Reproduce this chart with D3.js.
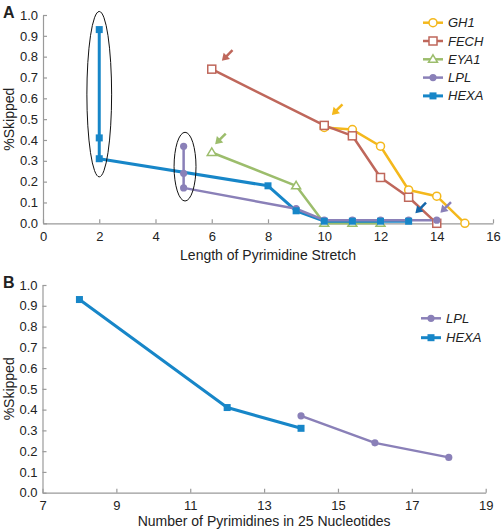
<!DOCTYPE html>
<html><head><meta charset="utf-8">
<script src="https://cdn.jsdelivr.net/npm/d3@7"></script>
<style>
body{margin:0;background:#fff;}
text{font-family:"Liberation Sans",Arial,sans-serif;fill:#222;}
</style></head>
<body><svg id="c" width="502" height="529"></svg>
<script>
// ---------- DATA: panel A ----------
const seriesA = ["GH1","FECH","EYA1","LPL","HEXA"];
const gh1X  = [10,11,12,13,14,15];
const gh1Y  = [0.46,0.45,0.37,0.16,0.13,0.0];
const fechX = [6,10,11,12,13,14];
const fechY = [0.74,0.47,0.42,0.22,0.125,0.0];
const eya1X = [6,9,10,11,12];
const eya1Y = [0.34,0.18,0.0,0.0,0.0];
const lplX  = [5,5,5,9,10,11,12,13,14];
const lplY  = [0.37,0.24,0.17,0.07,0.015,0.015,0.015,0.015,0.015];
const hexaX = [2,2,2,8,9,10,11,12,13];
const hexaY = [0.93,0.41,0.31,0.18,0.06,0.01,0.01,0.01,0.01];
const xTicksA = [0,2,4,6,8,10,12,14,16];
const yTicks = [0,0.1,0.2,0.3,0.4,0.5,0.6,0.7,0.8,0.9,1.0];
// annotation arrows (tip positions in data units) and ellipses
const arrowSeries = ["FECH","EYA1","GH1","HEXA","LPL"];
const arrowX = [6.36,6.12,10.27,13.24,14.13];
const arrowY = [0.78,0.38,0.52,0.048,0.051];
const ellipseCX = [2,5.05];
const ellipseCY = [0.62,0.272];
const ellipseRX = [0.44,0.39];
const ellipseRY = [0.397,0.165];

// ---------- DATA: panel B ----------
const seriesB = ["LPL","HEXA"];
const lplBX  = [14,16,18];
const lplBY  = [0.37,0.24,0.17];
const hexaBX = [8,12,14];
const hexaBY = [0.93,0.41,0.31];
const xTicksB = [7,9,11,13,15,17,19];

const colors = {GH1:"#f4b81c",FECH:"#bf675b",EYA1:"#9cbd6c",LPL:"#8a80b8",HEXA:"#1786c8"};
const arrowColors = {GH1:"#f4b81c",FECH:"#bf675b",EYA1:"#9cbd6c",LPL:"#8a80b8",HEXA:"#1466aa"};
const markers = {GH1:"ocircle",FECH:"osquare",EYA1:"otriangle",LPL:"circle",HEXA:"square"};
const widths = {GH1:2.5,FECH:2.5,EYA1:2.5,LPL:2.5,HEXA:3};

const svg = d3.select("#c");
const axisColor = "#9a9a9a";

function zip(xs, ys){return xs.map((x,i)=>({x:x,y:ys[i]}));}

function drawMarker(g, type, cx, cy, color){
  if(type==="ocircle"){
    g.append("circle").attr("cx",cx).attr("cy",cy).attr("r",4).attr("fill","#fff").attr("stroke",color).attr("stroke-width",1.5);
  } else if(type==="circle"){
    g.append("circle").attr("cx",cx).attr("cy",cy).attr("r",3.6).attr("fill",color);
  } else if(type==="osquare"){
    g.append("rect").attr("x",cx-4).attr("y",cy-4).attr("width",8).attr("height",8).attr("fill","#fff").attr("stroke",color).attr("stroke-width",1.5);
  } else if(type==="square"){
    g.append("rect").attr("x",cx-3.5).attr("y",cy-3.5).attr("width",7).attr("height",7).attr("fill",color);
  } else if(type==="otriangle"){
    g.append("path").attr("d",`M${cx},${cy-4.5}L${cx+4.5},${cy+3}L${cx-4.5},${cy+3}Z`).attr("fill","#fff").attr("stroke",color).attr("stroke-width",1.5);
  }
}

function drawAxes(g, x, y, xTicks, xFmt, top, bottom, left, right){
  const xa = g.append("g").attr("transform",`translate(0,${bottom})`)
    .call(d3.axisBottom(x).tickValues(xTicks).tickFormat(xFmt).tickSizeInner(-4).tickSizeOuter(0).tickPadding(8));
  const ya = g.append("g").attr("transform",`translate(${left},0)`)
    .call(d3.axisLeft(y).tickValues(yTicks).tickFormat(d3.format(".1f")).tickSizeInner(-4).tickSizeOuter(0).tickPadding(5));
  [xa,ya].forEach(a=>{
    a.select(".domain").attr("stroke",axisColor).attr("stroke-width",1.2);
    a.selectAll(".tick line").attr("stroke",axisColor).attr("stroke-width",1.2);
    a.selectAll(".tick text").attr("font-size",13).attr("fill","#222").style("font-family","'Liberation Sans',Arial,sans-serif");
  });
}

function drawLegend(g, names, x0, y0, dy){
  names.forEach((n,i)=>{
    const yy = y0 + i*dy;
    g.append("line").attr("x1",x0).attr("x2",x0+20).attr("y1",yy).attr("y2",yy).attr("stroke",colors[n]).attr("stroke-width",widths[n]);
    drawMarker(g, markers[n], x0+10, yy, colors[n]);
    g.append("text").attr("x",x0+25).attr("y",yy).attr("dy","0.35em").attr("font-size",13).attr("font-style","italic").text(n);
  });
}

// ---------- Panel A ----------
(function(){
  const left=43, right=493, top=15, bottom=223.3;
  const x = d3.scaleLinear().domain([0,16]).range([left,right]);
  const y = d3.scaleLinear().domain([0,1]).range([bottom,top]);
  const g = svg.append("g");
  drawAxes(g,x,y,xTicksA,d3.format("d"),top,bottom,left,right);

  const data = {GH1:zip(gh1X,gh1Y),FECH:zip(fechX,fechY),EYA1:zip(eya1X,eya1Y),LPL:zip(lplX,lplY),HEXA:zip(hexaX,hexaY)};
  const line = d3.line().x(d=>x(d.x)).y(d=>y(d.y));
  ["GH1","FECH","EYA1","HEXA","LPL"].forEach(n=>{
    g.append("path").attr("d",line(data[n])).attr("fill","none").attr("stroke",colors[n]).attr("stroke-width",widths[n]).attr("stroke-linejoin","round");
  });
  ["GH1","FECH","EYA1","LPL","HEXA"].forEach(n=>{
    data[n].forEach(d=>drawMarker(g,markers[n],x(d.x),y(d.y),colors[n]));
  });

  // ellipses
  ellipseCX.forEach((cx,i)=>{
    g.append("ellipse").attr("cx",x(cx)).attr("cy",y(ellipseCY[i]))
      .attr("rx",x(cx+ellipseRX[i])-x(cx)).attr("ry",y(0)-y(ellipseRY[i]))
      .attr("fill","none").attr("stroke","#111").attr("stroke-width",1);
  });

  // arrows
  arrowSeries.forEach((n,i)=>{
    const tx=x(arrowX[i]), ty=y(arrowY[i]);
    const c = arrowColors[n];
    const ux = Math.SQRT1_2, uy = -Math.SQRT1_2; // direction from tip to tail
    g.append("line").attr("x1",tx+ux*5).attr("y1",ty+uy*5).attr("x2",tx+ux*15).attr("y2",ty+uy*15)
      .attr("stroke",c).attr("stroke-width",2.5);
    const bx=tx+ux*7, by=ty+uy*7, px=-uy, py=ux;
    g.append("path").attr("d",`M${tx},${ty}L${bx+px*4.5},${by+py*4.5}L${bx-px*4.5},${by-py*4.5}Z`).attr("fill",c);
  });

  drawLegend(g, seriesA, 423, 22.7, 18.3);

  g.append("text").attr("transform",`translate(14,${(top+bottom)/2}) rotate(-90)`).attr("text-anchor","middle").attr("font-size",14).text("%Skipped");
  g.append("text").attr("x",(left+right)/2).attr("y",260).attr("text-anchor","middle").attr("font-size",14).text("Length of Pyrimidine Stretch");
  g.append("text").attr("x",3).attr("y",18).attr("font-size",16).attr("font-weight","bold").text("A");
})();

// ---------- Panel B ----------
(function(){
  const left=42.5, right=485.7, top=285, bottom=492.7;
  const x = d3.scaleLinear().domain([7,19]).range([left,right]);
  const y = d3.scaleLinear().domain([0,1]).range([bottom,top]);
  const g = svg.append("g");
  drawAxes(g,x,y,xTicksB,d3.format("d"),top,bottom,left,right);
  const data = {LPL:zip(lplBX,lplBY),HEXA:zip(hexaBX,hexaBY)};
  const line = d3.line().x(d=>x(d.x)).y(d=>y(d.y));
  ["HEXA","LPL"].forEach(n=>{
    g.append("path").attr("d",line(data[n])).attr("fill","none").attr("stroke",colors[n]).attr("stroke-width",widths[n]).attr("stroke-linejoin","round");
    data[n].forEach(d=>drawMarker(g,markers[n],x(d.x),y(d.y),colors[n]));
  });
  drawLegend(g, seriesB, 421, 318.3, 19.4);
  g.append("text").attr("transform",`translate(14,${(top+bottom)/2}) rotate(-90)`).attr("text-anchor","middle").attr("font-size",14).text("%Skipped");
  g.append("text").attr("x",(left+right)/2).attr("y",526).attr("text-anchor","middle").attr("font-size",14).text("Number of Pyrimidines in 25 Nucleotides");
  g.append("text").attr("x",3).attr("y",288).attr("font-size",16).attr("font-weight","bold").text("B");
})();
</script></body></html>
